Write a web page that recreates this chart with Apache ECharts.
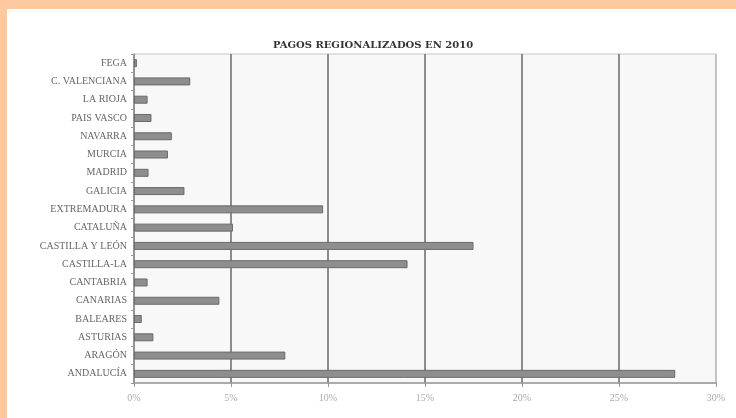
<!DOCTYPE html>
<html>
<head>
<meta charset="utf-8">
<script src="https://cdn.jsdelivr.net/npm/echarts@6/dist/echarts.min.js"></script>
<style>
html, body { margin: 0; padding: 0; }
#chart { width: 736px; height: 418px; }
</style>
</head>
<body>
<div id="chart"></div>
<script>
// regiones, de arriba abajo
let regiones = ['FEGA', 'C. VALENCIANA', 'LA RIOJA', 'PAIS VASCO', 'NAVARRA', 'MURCIA', 'MADRID', 'GALICIA',
    'EXTREMADURA', 'CATALUÑA', 'CASTILLA Y LEÓN', 'CASTILLA-LA', 'CANTABRIA', 'CANARIAS', 'BALEARES',
    'ASTURIAS', 'ARAGÓN', 'ANDALUCÍA'];
// % de pagos
let pagos = [0.15, 2.9, 0.7, 0.9, 1.95, 1.75, 0.75, 2.6,
    9.75, 5.1, 17.5, 14.1, 0.7, 4.4, 0.4,
    1.0, 7.8, 27.9];
let ticks = [0, 5, 10, 15, 20, 25, 30];

let myChart = echarts.init(document.getElementById('chart'));
let option = {
    backgroundColor: '#fdc9a0',
    animation: false,
    graphic: [{
        type: 'rect',
        left: 7,
        top: 9,
        shape: {width: 729, height: 409},
        style: {fill: '#ffffff'},
        z: -10
    }],
    title: {
        text: 'PAGOS REGIONALIZADOS EN 2010',
        left: 368,
        textAlign: 'center',
        top: 35,
        textStyle: {
            fontFamily: 'DejaVu Serif',
            fontSize: 10,
            fontWeight: 'bold',
            color: '#333'
        }
    },
    grid: {
        left: 134,
        right: 20,
        top: 54,
        bottom: 35,
        show: true,
        backgroundColor: '#f8f8f8',
        borderColor: '#c4c4c4',
        borderWidth: 1
    },
    xAxis: {
        type: 'value',
        min: ticks[0],
        max: ticks[ticks.length - 1],
        interval: 5,
        axisLine: {show: true, lineStyle: {color: '#999', width: 1.5}},
        axisTick: {show: true, length: 4, lineStyle: {color: '#999'}},
        splitLine: {
            show: true,
            lineStyle: {
                // la ultima (30%) es el borde claro
                color: ['#8c8c8c', '#8c8c8c', '#8c8c8c', '#8c8c8c', '#8c8c8c', '#8c8c8c', '#c4c4c4'],
                width: 2
            }
        },
        axisLabel: {
            formatter: '{value}%',
            color: '#aaa',
            fontFamily: 'Liberation Serif',
            fontSize: 10,
            margin: 10
        }
    },
    yAxis: {
        type: 'category',
        inverse: true,
        data: regiones,
        axisLine: {show: true, lineStyle: {color: '#999', width: 1.5}},
        axisTick: {show: true, length: 3, lineStyle: {color: '#999'}},
        axisLabel: {
            color: '#666',
            fontFamily: 'Liberation Serif',
            fontSize: 10,
            margin: 7
        }
    },
    series: [{
        name: 'pagos',
        type: 'bar',
        data: pagos,
        barWidth: 8,
        itemStyle: {
            color: '#8e8e8e',
            borderColor: '#6a6a6a',
            borderWidth: 1
        }
    }]
};
myChart.setOption(option);
</script>
</body>
</html>
